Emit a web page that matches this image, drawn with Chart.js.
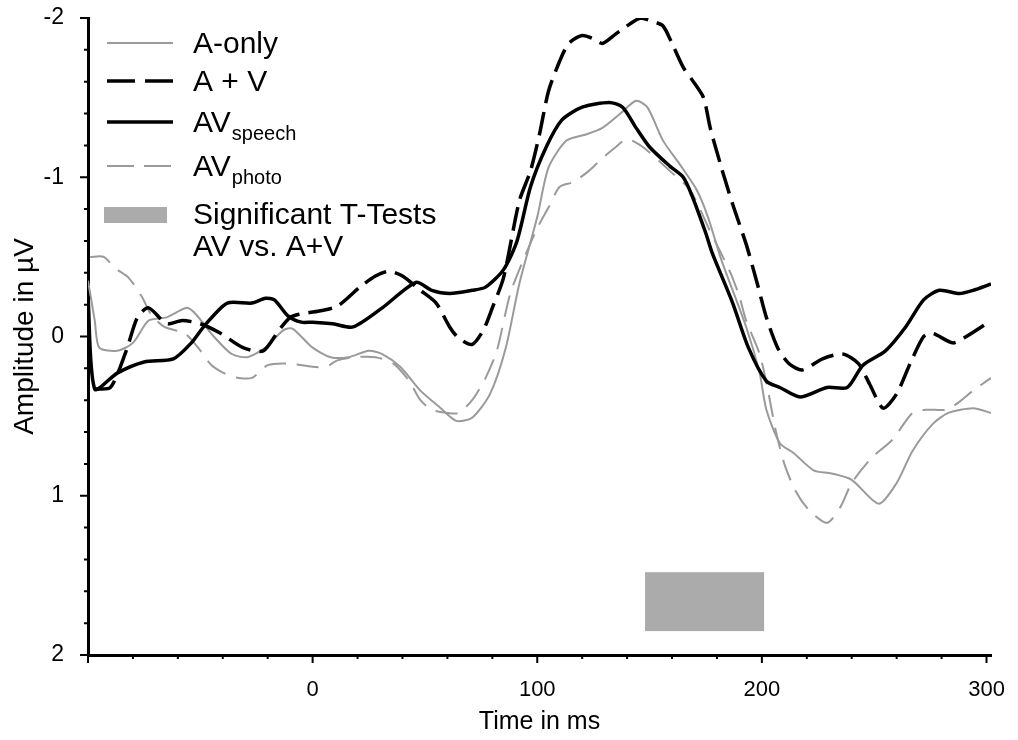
<!DOCTYPE html>
<html>
<head>
<meta charset="utf-8">
<script src="https://cdn.jsdelivr.net/npm/chart.js@4"></script>
<style>
  body { margin: 0; background: #fff; }
</style>
</head>
<body>
<canvas id="erp" width="1018" height="740"></canvas>

<script>
  // AV speech (solid black)
  const tSpeech = [-100, -97, -87, -75, -62, -54, -48, -38, -27, -21, -17, -11, -5, 0, 9, 18, 31, 46, 53, 61, 71, 77, 85, 91, 97, 104, 111, 120, 132, 138, 144, 150, 159, 165, 169, 175, 178, 187, 194, 202, 208, 217, 229, 238, 245, 255, 264, 272, 279, 288, 294, 302];
  const vSpeech = [-0.25, 0.33, 0.23, 0.16, 0.14, 0.04, -0.07, -0.21, -0.21, -0.24, -0.23, -0.13, -0.09, -0.09, -0.08, -0.06, -0.18, -0.34, -0.29, -0.27, -0.29, -0.31, -0.42, -0.60, -0.94, -1.19, -1.36, -1.44, -1.47, -1.44, -1.31, -1.19, -1.07, -1.0, -0.88, -0.65, -0.52, -0.21, 0.07, 0.28, 0.32, 0.38, 0.32, 0.32, 0.18, 0.09, -0.06, -0.23, -0.29, -0.27, -0.29, -0.33];

  // A + V (dashed black)
  const tSum = [-97, -90, -83, -78, -73, -65, -58, -50, -41, -31, -22, -15, -10, -6, 3, 11, 21, 28, 34, 40, 48, 55, 61, 65, 71, 76, 80, 85, 92, 97, 101, 105, 110, 114, 120, 125, 129, 135, 141, 146, 151, 156, 160, 165, 169, 174, 177, 182, 187, 193, 198, 202, 207, 212, 218, 227, 236, 243, 248, 254, 260, 266, 272, 276, 285, 291, 302];
  const vSum = [0.33, 0.32, 0.09, -0.12, -0.18, -0.08, -0.10, -0.08, -0.02, 0.07, 0.09, -0.04, -0.12, -0.14, -0.16, -0.19, -0.31, -0.38, -0.41, -0.38, -0.29, -0.21, -0.06, 0.01, 0.05, -0.04, -0.18, -0.37, -0.85, -1.04, -1.27, -1.54, -1.73, -1.84, -1.89, -1.87, -1.84, -1.90, -1.96, -2.0, -1.98, -1.95, -1.84, -1.69, -1.61, -1.50, -1.31, -1.06, -0.83, -0.58, -0.33, -0.12, 0.07, 0.17, 0.21, 0.14, 0.11, 0.17, 0.30, 0.45, 0.36, 0.17, 0.0, -0.02, 0.04, 0.0, -0.10];

  // A-only (thin grey)
  const tAudio = [-100, -97, -95, -87, -80, -73, -65, -56, -52, -44, -36, -29, -21, -13, -9, 0, 8, 16, 25, 31, 39, 48, 57, 64, 71, 79, 86, 92, 100, 105, 113, 122, 129, 137, 144, 149, 156, 163, 171, 176, 182, 193, 199, 202, 208, 214, 223, 231, 240, 252, 260, 267, 276, 283, 294, 302];
  const vAudio = [-0.35, -0.1, 0.07, 0.09, 0.04, -0.10, -0.12, -0.18, -0.14, 0.0, 0.11, 0.13, 0.07, -0.04, -0.05, 0.07, 0.13, 0.13, 0.09, 0.11, 0.19, 0.34, 0.45, 0.53, 0.51, 0.36, 0.07, -0.33, -0.75, -1.06, -1.23, -1.27, -1.31, -1.40, -1.48, -1.44, -1.23, -1.09, -0.92, -0.75, -0.48, -0.06, 0.23, 0.46, 0.67, 0.73, 0.84, 0.86, 0.90, 1.05, 0.92, 0.72, 0.55, 0.48, 0.45, 0.48];

  // AV photo (thin grey dashed)
  const tPhoto = [-99, -93, -88, -82, -76, -72, -66, -57, -51, -45, -38, -33, -27, -20, -11, 0, 6, 11, 18, 28, 36, 43, 48, 53, 60, 65, 71, 77, 82, 88, 95, 100, 105, 110, 116, 123, 129, 135, 140, 147, 159, 168, 177, 186, 190, 193, 199, 203, 206, 210, 215, 221, 229, 235, 240, 249, 258, 267, 273, 282, 287, 294, 302];
  const vPhoto = [-0.50, -0.50, -0.43, -0.37, -0.25, -0.14, -0.06, -0.02, 0.07, 0.18, 0.24, 0.26, 0.26, 0.18, 0.17, 0.19, 0.19, 0.15, 0.13, 0.13, 0.17, 0.28, 0.40, 0.46, 0.48, 0.48, 0.40, 0.26, 0.09, -0.27, -0.52, -0.68, -0.81, -0.94, -0.97, -1.04, -1.12, -1.19, -1.24, -1.19, -1.04, -0.92, -0.66, -0.40, -0.25, -0.10, 0.11, 0.36, 0.58, 0.80, 0.97, 1.09, 1.17, 1.07, 0.92, 0.76, 0.65, 0.48, 0.46, 0.46, 0.42, 0.34, 0.26];

  // significant t-test window (ms) and where the bar sits (µV)
  const sigTimes = [148, 201];
  const sigAmps = [1.48, 1.85];

  const xTickLabels = [0, 100, 200, 300];
  const yTickLabels = [-2, -1, 0, 1, 2];

  const GREY = '#9a9a9a';

  function toPoints(ts, vs) {
    return ts.map((t, i) => ({ x: t, y: vs[i] }));
  }

  // ticks (long at labels, short in between) and the grey significance bar
  const extras = {
    id: 'extras',
    beforeDatasetsDraw(chart) {
      const ctx = chart.ctx;
      const x = chart.scales.x, y = chart.scales.y;
      const x0 = x.getPixelForValue(sigTimes[0]), x1 = x.getPixelForValue(sigTimes[1]);
      const y0 = y.getPixelForValue(sigAmps[0]), y1 = y.getPixelForValue(sigAmps[1]);
      ctx.save();
      ctx.fillStyle = '#ababab';
      ctx.fillRect(x0, y0, x1 - x0, y1 - y0);
      ctx.restore();
    },
    afterDraw(chart) {
      const ctx = chart.ctx;
      const x = chart.scales.x, y = chart.scales.y;
      const area = chart.chartArea;
      ctx.save();
      ctx.strokeStyle = '#000';
      ctx.lineWidth = 2;
      ctx.beginPath();
      for (let t = -100; t <= 300; t += 20) {
        const px = x.getPixelForValue(t);
        const len = (t % 100 === 0) ? 8 : 4;
        ctx.moveTo(px, area.bottom);
        ctx.lineTo(px, area.bottom + len);
      }
      for (let k = -10; k <= 10; k++) {
        const py = y.getPixelForValue(k / 5);
        const len = (k % 5 === 0) ? 8 : 4;
        ctx.moveTo(area.left, py);
        ctx.lineTo(area.left - len, py);
      }
      ctx.stroke();
      ctx.restore();
      drawLegend(ctx);
    }
  };

  function drawLegend(ctx) {
    const sx0 = 107, sx1 = 173, tx = 193;
    const big = '30px "Liberation Sans", Arial, sans-serif';
    const small = '20px "Liberation Sans", Arial, sans-serif';
    const rows = [
      { y: 43, color: GREY, width: 2, dash: [], label: 'A-only' },
      { y: 81, color: '#000', width: 3.5, dash: [28, 10], label: 'A + V' },
      { y: 122, color: '#000', width: 3.5, dash: [], label: 'AV', sub: 'speech' },
      { y: 166, color: GREY, width: 2, dash: [27, 10], label: 'AV', sub: 'photo' }
    ];
    ctx.save();
    ctx.textBaseline = 'alphabetic';
    ctx.fillStyle = '#000';
    rows.forEach(r => {
      ctx.beginPath();
      ctx.setLineDash(r.dash);
      ctx.strokeStyle = r.color;
      ctx.lineWidth = r.width;
      ctx.moveTo(sx0, r.y);
      ctx.lineTo(sx1, r.y);
      ctx.stroke();
      ctx.font = big;
      const base = r.y + 10;
      ctx.fillText(r.label, tx, base);
      if (r.sub) {
        const w = ctx.measureText(r.label).width;
        ctx.font = small;
        ctx.fillText(r.sub, tx + w + 1, base + 8);
      }
    });
    ctx.setLineDash([]);
    ctx.fillStyle = '#ababab';
    ctx.fillRect(104, 207, 63, 16);
    ctx.fillStyle = '#000';
    ctx.font = big;
    ctx.fillText('Significant T-Tests', tx, 224);
    ctx.fillText('AV vs. A+V', tx, 256);
    ctx.restore();
  }

  new Chart(document.getElementById('erp'), {
    type: 'line',
    data: {
      datasets: [
        { label: 'AV speech', data: toPoints(tSpeech, vSpeech), borderColor: '#000', borderWidth: 3.5 },
        { label: 'A + V', data: toPoints(tSum, vSum), borderColor: '#000', borderWidth: 3.5, borderDash: [24, 9] },
        { label: 'A-only', data: toPoints(tAudio, vAudio), borderColor: GREY, borderWidth: 2 },
        { label: 'AV photo', data: toPoints(tPhoto, vPhoto), borderColor: GREY, borderWidth: 2, borderDash: [22, 11] }
      ]
    },
    options: {
      responsive: false,
      animation: false,
      devicePixelRatio: 1,
      elements: {
        point: { radius: 0 },
        line: { tension: 0.25, fill: false }
      },
      layout: { padding: { left: 0, top: 18, right: 27, bottom: 0 } },
      plugins: {
        legend: { display: false },
        tooltip: { enabled: false }
      },
      scales: {
        x: {
          type: 'linear',
          min: -100,
          max: 302,
          grid: { display: false, drawTicks: false },
          border: { display: true, color: '#000', width: 3 },
          afterBuildTicks: s => { s.ticks = xTickLabels.map(v => ({ value: v })); },
          afterFit: s => { s.height = 85; s.paddingLeft = 0; s.paddingRight = 0; },
          ticks: {
            color: '#000',
            padding: 22,
            maxRotation: 0,
            font: { family: '"Liberation Sans", Arial, sans-serif', size: 22 }
          },
          title: {
            display: true,
            text: 'Time in ms',
            color: '#000',
            padding: { top: 0, bottom: 3 },
            font: { family: '"Liberation Sans", Arial, sans-serif', size: 25 }
          }
        },
        y: {
          type: 'linear',
          reverse: true,
          min: -2,
          max: 2,
          grid: { display: false, drawTicks: false },
          border: { display: true, color: '#000', width: 3 },
          afterBuildTicks: s => { s.ticks = yTickLabels.map(v => ({ value: v })); },
          afterFit: s => { s.width = 88; s.paddingTop = 0; s.paddingBottom = 0; },
          ticks: {
            color: '#000',
            padding: 24,
            font: { family: '"Liberation Sans", Arial, sans-serif', size: 23 }
          },
          title: {
            display: true,
            text: 'Amplitude in µV',
            color: '#000',
            padding: { top: 8, bottom: 0 },
            font: { family: '"Liberation Sans", Arial, sans-serif', size: 28 }
          }
        }
      }
    },
    plugins: [extras]
  });
</script>
</body>
</html>
